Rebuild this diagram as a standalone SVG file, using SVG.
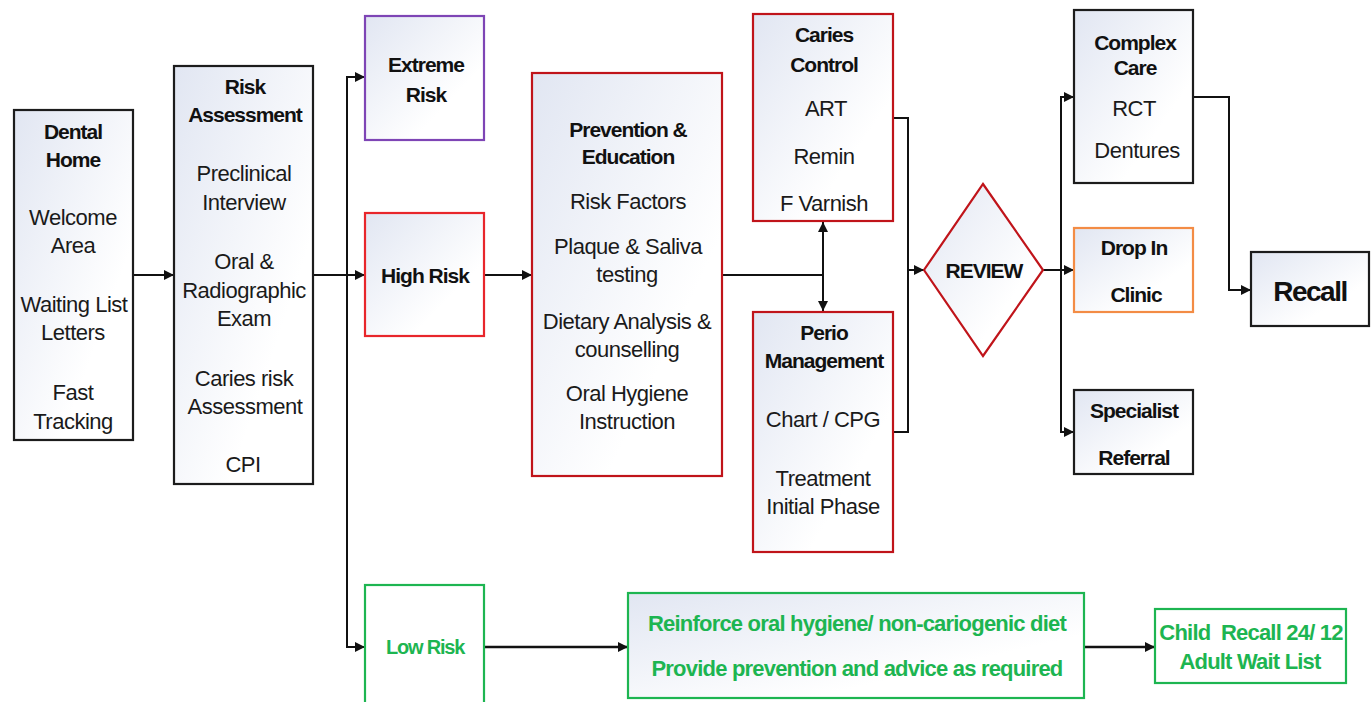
<svg xmlns="http://www.w3.org/2000/svg" width="1371" height="702" viewBox="0 0 1371 702">
<style>
.box{fill:url(#g);stroke-width:2.2}
.k{stroke:#1c1c1c}
.r{stroke:#E8262B}
.dr{stroke:#C0141A}
.p{stroke:#7E45B5}
.o{stroke:#F38C45}
.gr{stroke:#1DB551}
text{font-family:"Liberation Sans",Arial,sans-serif;text-anchor:middle;dominant-baseline:central;fill:#111}
.h{font-weight:bold;font-size:21px;letter-spacing:-1px}
.t{font-size:22px;letter-spacing:-0.5px;fill:#1a1a1a}
.gt{font-weight:bold;font-size:22px;letter-spacing:-0.8px;fill:#1DB551}
.c{fill:none;stroke:#111;stroke-width:2}
.a{marker-end:url(#ar)}
.b{marker-start:url(#ar2);marker-end:url(#ar)}
</style>
<defs>
<linearGradient id="g" x1="0" y1="0" x2="1" y2="1">
<stop offset="0" stop-color="#E1E6F2"/>
<stop offset="0.7" stop-color="#FFFFFF"/>
<stop offset="1" stop-color="#FFFFFF"/>
</linearGradient>
<marker id="ar" viewBox="0 0 10 10" refX="10" refY="5" markerWidth="11" markerHeight="10" markerUnits="userSpaceOnUse" orient="auto">
<path d="M0,0 L10,5 L0,10 z" fill="#111"/>
</marker>
<marker id="ar2" viewBox="0 0 10 10" refX="0" refY="5" markerWidth="11" markerHeight="10" markerUnits="userSpaceOnUse" orient="auto">
<path d="M10,0 L0,5 L10,10 z" fill="#111"/>
</marker>
</defs>
<rect width="1371" height="702" fill="#fff"/>

<g id="connectors">
<line class="c a" x1="133" y1="275" x2="174" y2="275"/>
<line class="c" x1="313" y1="275" x2="347" y2="275"/>
<line class="c" x1="347" y1="76" x2="347" y2="647"/>
<line class="c a" x1="346" y1="77" x2="365" y2="77"/>
<line class="c a" x1="346" y1="275" x2="365" y2="275"/>
<line class="c a" x1="346" y1="647" x2="365" y2="647"/>
<line class="c a" x1="484" y1="275" x2="532" y2="275"/>
<line class="c" x1="722" y1="275" x2="823" y2="275"/>
<line class="c b" x1="823" y1="222" x2="823" y2="311"/>
<polyline class="c" points="893,118 908,118 908,432 893,432"/>
<line class="c a" x1="908" y1="270" x2="924" y2="270"/>
<line class="c" x1="1043" y1="270" x2="1061" y2="270"/>
<line class="c" x1="1061" y1="97" x2="1061" y2="433"/>
<line class="c a" x1="1060" y1="97" x2="1074" y2="97"/>
<line class="c a" x1="1060" y1="270" x2="1074" y2="270"/>
<line class="c a" x1="1060" y1="432" x2="1074" y2="432"/>
<polyline class="c a" points="1193,97 1229,97 1229,290 1251,290"/>
<line class="c a" x1="484" y1="647" x2="628" y2="647" style="stroke-width:2.6"/>
<line class="c a" x1="1084" y1="647" x2="1155" y2="647" style="stroke-width:2.6"/>
</g>

<g id="dental-home">
<rect class="box k" x="14" y="110" width="119" height="330"/>
<text class="h" x="73" y="131">Dental</text>
<text class="h" x="73" y="159">Home</text>
<text class="t" x="73" y="217">Welcome</text>
<text class="t" x="73" y="245">Area</text>
<text class="t" x="74" y="304">Waiting List</text>
<text class="t" x="73" y="332">Letters</text>
<text class="t" x="73" y="392">Fast</text>
<text class="t" x="73" y="421">Tracking</text>
</g>

<g id="risk-assessment">
<rect class="box k" x="174" y="66" width="139" height="418"/>
<text class="h" x="245" y="86">Risk</text>
<text class="h" x="245" y="114">Assessment</text>
<text class="t" x="244" y="173">Preclinical</text>
<text class="t" x="244" y="202">Interview</text>
<text class="t" x="244" y="261">Oral &amp;</text>
<text class="t" x="244" y="290">Radiographic</text>
<text class="t" x="244" y="318">Exam</text>
<text class="t" x="244" y="378">Caries risk</text>
<text class="t" x="245" y="406">Assessment</text>
<text class="t" x="243" y="464">CPI</text>
</g>

<g id="extreme-risk">
<rect class="box p" x="365" y="16" width="119" height="124"/>
<text class="h" x="426" y="64">Extreme</text>
<text class="h" x="426" y="94">Risk</text>
</g>

<g id="high-risk">
<rect class="box r" x="365" y="213" width="119" height="123"/>
<text class="h" x="425" y="275">High Risk</text>
</g>

<g id="low-risk">
<rect class="box gr" x="365" y="585" width="119" height="125" style="fill:#fff"/>
<text class="gt" x="425" y="647" style="font-size:20px;letter-spacing:-1.2px">Low Risk</text>
</g>

<g id="prevention">
<rect class="box dr" x="532" y="73" width="190" height="403"/>
<text class="h" x="628" y="129">Prevention &amp;</text>
<text class="h" x="628" y="156">Education</text>
<text class="t" x="628" y="201">Risk Factors</text>
<text class="t" x="628" y="246">Plaque &amp; Saliva</text>
<text class="t" x="627" y="274">testing</text>
<text class="t" x="627" y="321">Dietary Analysis &amp;</text>
<text class="t" x="627" y="349">counselling</text>
<text class="t" x="627" y="393">Oral Hygiene</text>
<text class="t" x="627" y="421">Instruction</text>
</g>

<g id="caries-control">
<rect class="box dr" x="753" y="14" width="140" height="207"/>
<text class="h" x="824" y="34">Caries</text>
<text class="h" x="824" y="64">Control</text>
<text class="t" x="826" y="108">ART</text>
<text class="t" x="824" y="156">Remin</text>
<text class="t" x="824" y="203">F Varnish</text>
</g>

<g id="perio-management">
<rect class="box dr" x="753" y="312" width="140" height="240"/>
<text class="h" x="824" y="332">Perio</text>
<text class="h" x="824" y="360">Management</text>
<text class="t" x="823" y="419">Chart / CPG</text>
<text class="t" x="823" y="478">Treatment</text>
<text class="t" x="823" y="506">Initial Phase</text>
</g>

<g id="review">
<polygon class="box dr" points="983,184 1043,270 983,356 924,270"/>
<text class="h" x="984" y="270">REVIEW</text>
</g>

<g id="complex-care">
<rect class="box k" x="1074" y="10" width="119" height="173"/>
<text class="h" x="1135" y="42">Complex</text>
<text class="h" x="1135" y="67">Care</text>
<text class="t" x="1134" y="108">RCT</text>
<text class="t" x="1137" y="150">Dentures</text>
</g>

<g id="drop-in-clinic">
<rect class="box o" x="1074" y="228" width="119" height="84"/>
<text class="h" x="1134" y="247">Drop In</text>
<text class="h" x="1136" y="294">Clinic</text>
</g>

<g id="specialist-referral">
<rect class="box k" x="1074" y="390" width="119" height="84"/>
<text class="h" x="1134" y="410">Specialist</text>
<text class="h" x="1134" y="457">Referral</text>
</g>

<g id="recall">
<rect class="box k" x="1251" y="252" width="118" height="74"/>
<text class="h" x="1310" y="291" style="font-size:28px;letter-spacing:-1.5px">Recall</text>
</g>

<g id="reinforce">
<rect class="box gr" x="628" y="593" width="456" height="105"/>
<text class="gt" x="857" y="623">Reinforce oral hygiene/ non-cariogenic diet</text>
<text class="gt" x="857" y="668">Provide prevention and advice as required</text>
</g>

<g id="child-recall">
<rect class="box gr" x="1155" y="609" width="191" height="74" style="fill:#fff"/>
<text class="gt" x="1251" y="632" xml:space="preserve">Child  Recall 24/ 12</text>
<text class="gt" x="1250" y="661">Adult Wait List</text>
</g>
</svg>
